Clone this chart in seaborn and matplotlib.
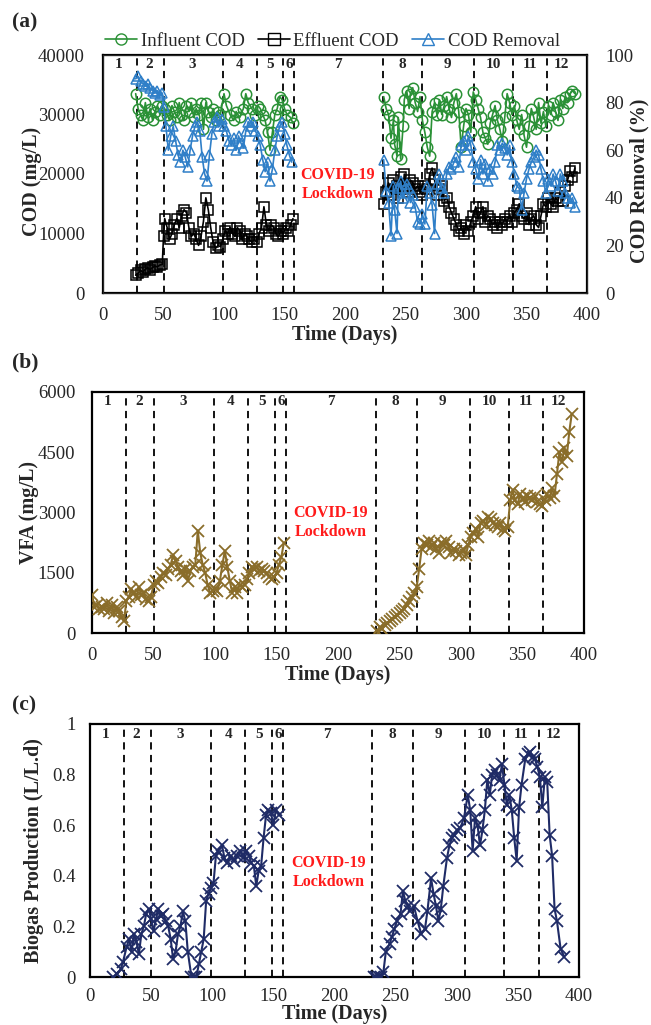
import numpy as np
import pandas as pd
import matplotlib
matplotlib.use("Agg")
import matplotlib.pyplot as plt
from matplotlib.lines import Line2D
import seaborn as sns

# ---------------- data ----------------
phase_bounds = [28, 50, 99, 127, 149, 158, 231, 264, 307, 339, 367]
phase_labels = ["1", "2", "3", "4", "5", "6", "7", "8", "9", "10", "11", "12"]
phase_label_x = [13, 38, 74, 113, 138, 154, 194, 247, 285, 323, 353, 379]

inf_days_1 = [27, 29, 31, 33, 35, 37, 39, 41, 43, 45, 47, 49,
              51, 53, 55, 57, 59, 61, 63, 65, 67, 69, 71, 73, 75, 77, 79, 81, 83, 85, 87, 89, 91, 93, 95, 97,
              100, 102, 105, 108, 110, 113, 116, 118, 120, 123, 126,
              128, 130, 132, 134, 136, 138, 140, 142, 144, 146, 148, 150, 152, 155, 157]
inf_cod_1 = [33500, 31000, 30000, 29000, 32000, 29500, 31000, 29000, 30500, 31500, 30000, 31500,
             31000, 30000, 29000, 31500, 30500, 29500, 32000, 30000, 29000, 31500, 30500, 32000, 29500, 31000, 30000, 32000, 27500, 32000, 30500, 29500, 31000, 29000, 30500, 30000,
             33500, 31500, 30000, 29000, 30500, 29500, 31000, 33500, 32000, 31000, 30000,
             31500, 31000, 30000, 29000, 27000, 24000, 27000, 30000, 31000, 33000, 32500, 31000, 30000, 29500, 28500]

inf_days_2 = [232, 234, 236, 238, 240, 241, 243, 244, 246, 248, 249, 251, 253, 254, 256, 258, 260, 262, 264, 266,
              268, 270, 272, 274, 276, 278, 280, 282, 284, 286, 288, 290, 292, 294, 296, 298, 300, 302, 304, 306,
              308, 310, 312, 314, 316, 318, 320, 322, 324, 326, 328, 330, 332, 334, 336, 338, 340, 342, 344, 346,
              348, 350, 352, 354, 356, 358, 360, 362, 364, 366, 368, 370, 372, 374, 376, 378, 380, 382, 384, 386, 388, 390]
inf_cod_2 = [33000, 31000, 30000, 26000, 29000, 25000, 23000, 29500, 22500, 28000, 32500, 34000, 31000, 33500, 34500, 32000, 30500, 33000, 29000, 27000,
             24500, 23000, 30500, 32000, 30000, 32500, 30000, 31500, 33000, 31000, 29500, 32000, 33500, 30500, 24500, 28000, 31000, 30000, 27000, 33800,
             32500, 31000, 29500, 27000, 26000, 25000, 28500, 30000, 31500, 29000, 27500, 25500, 29500, 33500, 32000, 30000, 31500, 29000, 27500, 30000,
             26500, 24500, 28000, 31000, 29500, 27500, 32000, 28500, 30500, 28000, 31500, 30000, 32000, 30500, 29000, 32500, 31000, 33000, 32000, 33500, 34000, 33500]

eff_days_1 = [27, 29, 31, 33, 35, 37, 39, 41, 43, 45, 47, 49,
              50, 51, 53, 55, 57, 59, 61, 63, 65, 67, 69, 71, 73, 75, 77, 79, 81, 83, 85, 87, 89, 91, 93, 95, 97,
              99, 101, 103, 105, 107, 109, 111, 113, 115, 117, 119, 121, 123, 125, 127,
              129, 131, 133, 135, 137, 139, 141, 143, 145, 147, 149, 151, 153, 155, 157]
eff_cod_1 = [3000, 3300, 3800, 3500, 4000, 4200, 3900, 4300, 4500, 4400, 4700, 4800,
             9500, 12500, 11000, 9000, 10000, 11500, 12500, 11000, 13000, 14000, 13500, 11000, 9500, 10000, 9000, 8000, 9500, 12000, 16000, 14000, 11000, 8500, 7500, 8000, 7800,
             9000, 10500, 10000, 11000, 10000, 9500, 11000, 10500, 9000, 10000, 9500, 9000, 8500, 9000, 8500,
             10000, 11000, 14500, 11500, 10500, 11500, 11000, 10000, 9500, 10500, 10000, 11000, 10500, 11500, 12500]

eff_days_2 = inf_days_2
eff_cod_2 = [15000, 17000, 18500, 16500, 19000, 17500, 18000, 16000, 19500, 17500, 20000, 18000, 17000, 19000, 18500, 17500, 18000, 17000, 16500, 18000,
             17500, 20000, 21000, 19000, 16500, 17500, 18000, 15500, 16000, 14500, 13500, 12500, 11500, 10500, 11000, 10000, 11500, 10500, 12000, 13000,
             14500, 12500, 13500, 14500, 12000, 13000, 12500, 11500, 12000, 11000, 12000, 11500, 12500, 12000, 13000, 12000, 13500, 14000, 15000, 13000,
             12500, 13500, 11500, 12500, 13000, 11500, 11000, 13000, 15000, 14500, 16000, 15000, 14500, 16000, 15500, 17000, 15500, 18000, 19000, 20500, 19500, 21000]

rem_days_1 = [27, 29, 31, 33, 35, 37, 39, 41, 43, 45, 47, 49,
              50, 52, 54, 56, 58, 60, 62, 64, 66, 68, 70, 72, 74, 76, 78, 80, 82, 84, 86, 88, 90, 92, 94, 96, 98,
              100, 102, 104, 106, 108, 110, 112, 114, 116, 118, 120, 122, 124, 126,
              128, 130, 132, 134, 136, 138, 140, 142, 144, 146, 148, 150, 152, 154, 156]
rem_pct_1 = [90, 91, 89, 88, 87, 88, 86, 85, 84, 85, 83, 84,
             78, 70, 60, 66, 70, 64, 58, 55, 60, 57, 53, 60, 66, 70, 72, 68, 57, 50, 47, 58, 67, 72, 74, 70, 73,
             70, 68, 64, 62, 65, 60, 66, 63, 61, 68, 72, 70, 72, 68,
             66, 62, 56, 51, 55, 47, 52, 60, 66, 70, 72, 67, 62, 58, 55]

rem_days_2 = inf_days_2
rem_pct_2 = [56, 43, 38, 24, 45, 35, 25, 44, 47, 40, 42, 46, 44, 38, 41, 36, 30, 29, 33, 29,
             45, 42, 37, 25, 46, 50, 44, 42, 50, 53, 52, 55, 57, 53, 62, 64, 60, 66, 62, 55,
             52, 48, 56, 50, 54, 47, 52, 50, 55, 62, 60, 63, 61, 58, 62, 55, 50, 45, 44, 35,
             42, 48, 52, 55, 57, 60, 58, 52, 47, 42, 48, 45, 50, 47, 43, 50, 47, 42, 40, 38, 40, 36]

vfa_days_1 = [0, 2, 4, 6, 8, 10, 12, 14, 16, 18, 20, 22, 24, 26, 28, 30, 32, 34, 36, 38, 40, 42, 44, 46, 48,
              50, 52, 54, 56, 58, 60, 62, 64, 66, 68, 70, 72, 74, 76, 78, 80, 82, 84, 86, 88, 90, 92, 94, 96, 98,
              100, 102, 104, 106, 108, 110, 112, 114, 116, 118, 120, 122, 124, 126, 128, 130, 132, 134, 136, 138,
              140, 142, 144, 146, 148, 150, 152, 154, 156]
vfa_val_1 = [950, 650, 700, 600, 650, 600, 750, 550, 700, 500, 650, 550, 400, 300, 800, 900, 1100, 1000, 900, 1150, 950, 1000, 850, 800, 900,
             1200, 1300, 1250, 1400, 1500, 1450, 1600, 1700, 1950, 1800, 1650, 1550, 1450, 1600, 1300, 1550, 1650, 1700, 2550, 2000, 1700, 1500, 1200, 1000, 1050,
             1100, 1050, 1300, 1700, 2050, 1650, 1300, 1000, 1150, 1000, 1200, 1150, 1200, 1350, 1500, 1650, 1600, 1650, 1550, 1600,
             1550, 1500, 1400, 1350, 1400, 1500, 1700, 1900, 2250]

vfa_days_2 = [232, 234, 236, 238, 240, 242, 244, 246, 248, 250, 252, 254, 256, 258, 260, 262, 264, 266, 268, 270,
              272, 274, 276, 278, 280, 282, 284, 286, 288, 290, 292, 294, 296, 298, 300, 302, 304, 306, 308, 310,
              312, 314, 316, 318, 320, 322, 324, 326, 328, 330, 332, 334, 336, 338, 340, 342, 344, 346, 348, 350,
              352, 354, 356, 358, 360, 362, 364, 366, 368, 370, 372, 374, 376, 378, 380, 382, 384, 386, 388, 390]
vfa_val_2 = [50, 150, 100, 200, 250, 300, 350, 400, 450, 500, 550, 600, 700, 800, 900, 1000, 1150, 1600, 2100, 2250,
             2200, 2300, 2150, 2250, 2100, 2000, 2250, 2200, 2300, 2150, 2000, 2100, 2050, 1950, 2000, 2100, 1950, 2200, 2400, 2500,
             2600, 2400, 2750, 2800, 2700, 2900, 2850, 2750, 2700, 2650, 2750, 2600, 2550, 2650, 3300, 3550, 3300, 3200, 3450, 3350,
             3250, 3400, 3350, 3300, 3400, 3250, 3200, 3150, 3300, 3450, 3350, 3600, 3400, 3950, 4500, 4250, 4600, 4400, 5000, 5450]

gas_days_1 = [19, 22, 25, 27, 30, 32, 34, 36, 38, 40, 42, 44, 46, 48, 50, 52, 54, 56, 58, 60, 62, 64, 66, 68, 70,
              72, 74, 76, 78, 80, 83, 85, 87, 89, 91, 93, 95, 97, 99, 101, 103, 105, 108, 110, 112, 115, 118, 120,
              123, 125, 128, 130, 132, 134, 136, 138, 140, 142, 144, 146, 148, 150, 152, 155]
gas_val_1 = [0.0, 0.01, 0.03, 0.06, 0.12, 0.15, 0.10, 0.17, 0.14, 0.09, 0.17, 0.20, 0.25, 0.27, 0.23, 0.18, 0.23, 0.27, 0.24, 0.25, 0.22, 0.20, 0.15, 0.07, 0.10,
             0.17, 0.20, 0.26, 0.22, 0.10, 0.0, 0.0, 0.0, 0.05, 0.10, 0.15, 0.30, 0.33, 0.35, 0.37, 0.48, 0.50, 0.52, 0.47, 0.45, 0.48, 0.46, 0.48,
             0.50, 0.47, 0.50, 0.48, 0.45, 0.44, 0.36, 0.42, 0.44, 0.55, 0.64, 0.66, 0.65, 0.60, 0.66, 0.64]

gas_days_2 = [232, 234, 236, 238, 240, 242, 245, 247, 249, 251, 254, 256, 258, 260, 262, 265, 268, 271, 274, 276,
              279, 281, 283, 285, 287, 289, 292, 294, 296, 298, 300, 303, 306, 309, 311, 313, 315, 317, 319, 321,
              323, 325, 327, 329, 331, 333, 335, 337, 339, 341, 343, 345, 347, 349, 351, 353, 356, 358, 360, 362,
              364, 366, 368, 370, 372, 374, 376, 378, 380, 382, 385, 388]
gas_val_2 = [0.0, 0.0, 0.0, 0.0, 0.02, 0.10, 0.13, 0.16, 0.19, 0.22, 0.25, 0.34, 0.30, 0.28, 0.26, 0.28, 0.22, 0.17, 0.19, 0.26,
             0.39, 0.33, 0.28, 0.22, 0.27, 0.36, 0.47, 0.52, 0.55, 0.56, 0.58, 0.59, 0.63, 0.72, 0.66, 0.50, 0.63, 0.60, 0.52, 0.58,
             0.66, 0.78, 0.72, 0.80, 0.82, 0.80, 0.78, 0.84, 0.76, 0.68, 0.72, 0.66, 0.55, 0.46, 0.67, 0.76, 0.86, 0.88, 0.89, 0.87,
             0.86, 0.83, 0.79, 0.67, 0.79, 0.77, 0.56, 0.48, 0.27, 0.22, 0.11, 0.08]


def frame(d1, v1, d2, v2):
    return pd.DataFrame({"day": list(d1) + list(d2), "val": list(v1) + list(v2),
                         "part": ["a"] * len(d1) + ["b"] * len(d2)})


# ---------------- styling ----------------
sns.set_style("white")
plt.rcParams["font.family"] = ["Liberation Serif", "DejaVu Serif"]

GREEN = "#2a9136"
BLUE = "#2f7fc8"
OLIVE = "#8a6d2a"
NAVY = "#1f2b66"
RED = "#ff1a1a"

W, H = 651, 1025
fig = plt.figure(figsize=(W / 100, H / 100), dpi=100)


def add_ax(l, r, t, b):
    return fig.add_axes([l / W, 1 - b / H, (r - l) / W, (b - t) / H])


def style_ax(ax, ylim, yticks, ylabel, ypad, ylab_x, ylab_y=0.5, xpad=10):
    ax.set_xlim(0, 400)
    ax.set_xticks([0, 50, 100, 150, 200, 250, 300, 350, 400])
    ax.set_ylim(*ylim)
    ax.set_yticks(yticks)
    ax.tick_params(axis="x", length=0, labelsize=13.5, pad=xpad)
    ax.tick_params(axis="y", length=0, labelsize=13.5, pad=ypad)
    for s in ax.spines.values():
        s.set_color("black")
        s.set_linewidth(1.6)
        s.set_visible(True)
    ax.set_xlabel("Time (Days)", fontsize=14.5, fontweight="bold", va="center")
    ax.set_ylabel(ylabel, fontsize=14.5, fontweight="bold", va="center")
    ax.yaxis.set_label_coords(ylab_x, ylab_y)
    for xb in phase_bounds:
        ax.axvline(xb, color="black", ls=(0, (4, 3)), lw=1.3, zorder=1)
    ytop = ylim[1] - (ylim[1] - ylim[0]) * 0.04
    for xl, lab in zip(phase_label_x, phase_labels):
        ax.text(xl, ytop, lab, ha="center", va="center", fontsize=11, fontweight="bold")


def lock_text(ax, x, y):
    ax.text(x, y, "COVID-19\nLockdown", color=RED, ha="center", va="center",
            fontsize=11.5, fontweight="bold", linespacing=1.25)


# ---------------- panel (a) ----------------
axA = add_ax(103, 587, 55, 293)
axA2 = axA.twinx()
df_inf = frame(inf_days_1, inf_cod_1, inf_days_2, inf_cod_2)
df_eff = frame(eff_days_1, eff_cod_1, eff_days_2, eff_cod_2)
df_rem = frame(rem_days_1, rem_pct_1, rem_days_2, rem_pct_2)

mk = dict(markerfacecolor="none", markersize=7.5, markeredgewidth=1.1, linewidth=1.2)
sns.lineplot(data=df_inf, x="day", y="val", units="part", estimator=None, ax=axA,
             color=GREEN, marker="o", markeredgecolor=GREEN, legend=False, zorder=3, **mk)
sns.lineplot(data=df_eff, x="day", y="val", units="part", estimator=None, ax=axA,
             color="black", marker="s", markeredgecolor="black", legend=False, zorder=3, **mk)
sns.lineplot(data=df_rem, x="day", y="val", units="part", estimator=None, ax=axA2,
             color=BLUE, marker="^", markeredgecolor=BLUE, legend=False, zorder=3, **mk)

style_ax(axA, (0, 40000), [0, 10000, 20000, 30000, 40000], "COD (mg/L)", 13, -0.147, 0.47)
axA.xaxis.set_label_coords(0.5, -42 / 238)
axA2.set_ylim(0, 100)
axA2.set_yticks([0, 20, 40, 60, 80, 100])
axA2.tick_params(axis="y", length=0, labelsize=13.5, pad=13)
axA2.set_ylabel("COD Removal (%)", fontsize=14.5, fontweight="bold", va="center", rotation=90)
axA2.yaxis.set_label_coords(1.109, 0.47)
lock_text(axA, 194, 18300)

handles = [Line2D([], [], color=GREEN, marker="o", mfc="none", mec=GREEN, ms=8, lw=1.2),
           Line2D([], [], color="black", marker="s", mfc="none", mec="black", ms=8, lw=1.2),
           Line2D([], [], color=BLUE, marker="^", mfc="none", mec=BLUE, ms=8, lw=1.2)]
axA.legend(handles, ["Influent COD", "Effluent COD", "COD Removal"], loc="lower center",
           bbox_to_anchor=(0.474, 0.99), ncol=3, frameon=False, fontsize=13.5,
           handlelength=1.7, handletextpad=0.2, columnspacing=0.7, borderaxespad=0)

# ---------------- panel (b) ----------------
axB = add_ax(92, 584, 392, 633)
df_vfa = frame(vfa_days_1, vfa_val_1, vfa_days_2, vfa_val_2)
sns.lineplot(data=df_vfa, x="day", y="val", units="part", estimator=None, ax=axB,
             color=OLIVE, marker="x", markeredgecolor=OLIVE, markersize=8, markeredgewidth=1.3,
             linewidth=1.5, legend=False, zorder=3)
style_ax(axB, (0, 6000), [0, 1500, 3000, 4500, 6000], "VFA (mg/L)", 12, -0.128)
axB.xaxis.set_label_coords(0.5, -42 / 241)
lock_text(axB, 194, 2740)

# ---------------- panel (c) ----------------
axC = add_ax(90, 579, 724, 977)
df_gas = frame(gas_days_1, gas_val_1, gas_days_2, gas_val_2)
sns.lineplot(data=df_gas, x="day", y="val", units="part", estimator=None, ax=axC,
             color=NAVY, marker="x", markeredgecolor=NAVY, markersize=8, markeredgewidth=1.3,
             linewidth=1.5, legend=False, zorder=3)
style_ax(axC, (0, 1), [0, 0.2, 0.4, 0.6, 0.8, 1.0], "Biogas Production (L/L.d)", 10, -0.1145, xpad=8)
axC.set_yticklabels(["0", "0.2", "0.4", "0.6", "0.8", "1"])
axC.xaxis.set_label_coords(0.5, -37 / 253)
lock_text(axC, 195, 0.415)

# panel tags
for tag, y in [("(a)", 22), ("(b)", 362), ("(c)", 705)]:
    fig.text(12 / W, 1 - y / H, tag, fontsize=15.5, fontweight="bold", ha="left", va="center")

fig.savefig("out.png", dpi=100)
